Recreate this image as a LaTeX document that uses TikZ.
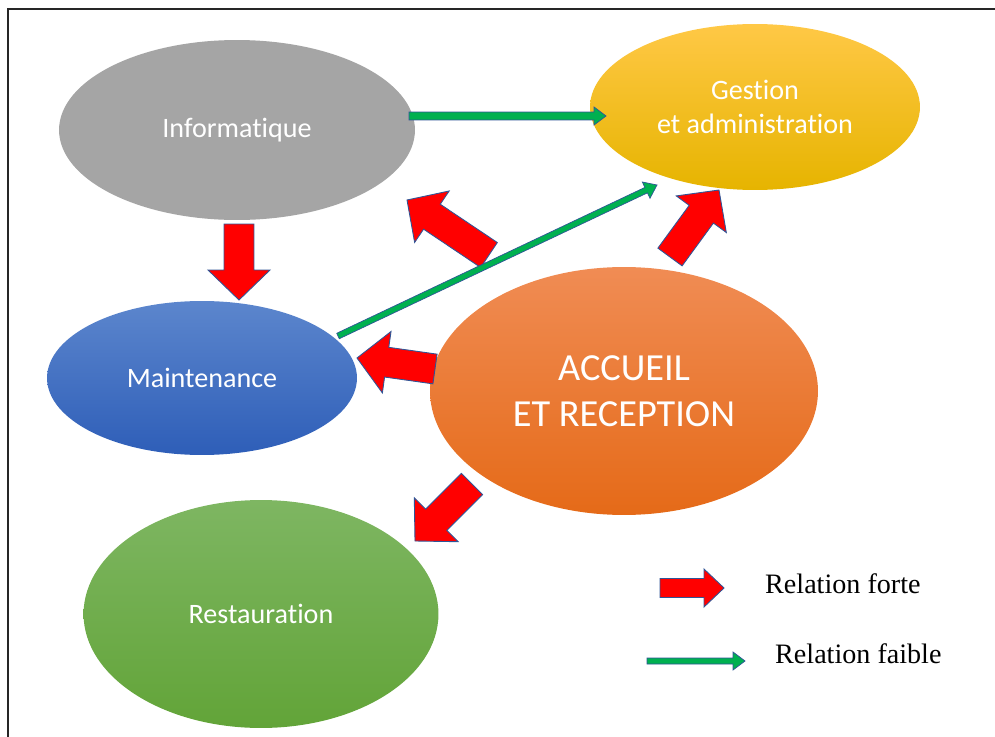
\documentclass[tikz,border=0pt]{standalone}
\usepackage{fontspec}
\setmainfont{Liberation Serif}
\setsansfont[Ligatures=NoCommon]{Carlito}
\usepackage{xcolor}
\usetikzlibrary{shapes,calc}

\definecolor{edgeblue}{HTML}{2F5597}
\definecolor{weakgreen}{HTML}{00B050}
\definecolor{infogray}{HTML}{A5A5A5}
\definecolor{gestTop}{HTML}{FFC846}
\definecolor{gestMid}{HTML}{FFC000}
\definecolor{gestBot}{HTML}{E6B400}
\definecolor{maintTop}{HTML}{5C86CD}
\definecolor{maintBot}{HTML}{2E5EB8}
\definecolor{accTop}{HTML}{F08C54}
\definecolor{accBot}{HTML}{E56A18}
\definecolor{restoTop}{HTML}{7EB662}
\definecolor{restoBot}{HTML}{62A438}

\tikzset{
    blockarrow/.style n args={3}{to path={
        ($(\tikztostart)!#1!90:(\tikztotarget)$)
        -- ($(\tikztotarget)!#3!(\tikztostart)!#1!90:(\tikztotarget)$)
        -- ($(\tikztotarget)!#3!(\tikztostart)!#2!90:(\tikztotarget)$)
        -- (\tikztotarget)
        -- ($(\tikztotarget)!#3!(\tikztostart)!#2!-90:(\tikztotarget)$)
        -- ($(\tikztotarget)!#3!(\tikztostart)!#1!-90:(\tikztotarget)$)
        -- ($(\tikztostart)!#1!-90:(\tikztotarget)$) -- cycle}},
    strong/.style={draw=edgeblue, fill=red, line width=0.5pt, blockarrow={3mm}{6.2mm}{6mm}},
    weak/.style={draw=edgeblue, fill=weakgreen, line width=0.4pt, blockarrow={#1}{1.8mm}{2.4mm}},
    dept/.style={ellipse, inner sep=0pt, text=white, align=center,
        font=\sffamily\fontsize{16}{19.5}\selectfont}
}

\begin{document}
\begin{tikzpicture}[x=0.02cm, y=-0.02cm]
    \useasboundingbox (0,0) rectangle (995,737);
    \draw[line width=1.1pt, black!85] (8,737) -- (8,9) -- (995,9);

    \node[dept, fill=infogray, minimum width=7.12cm, minimum height=3.6cm] (info) at (237,130) {Informatique};
    \node[dept, top color=gestTop, middle color=gestMid, bottom color=gestBot,
        minimum width=6.6cm, minimum height=3.32cm] (gest) at (755,107) {Gestion\\et administration};
    \node[dept, top color=maintTop, bottom color=maintBot,
        minimum width=6.2cm, minimum height=3.08cm] (maint) at (202,378) {Maintenance};
    \node[dept, top color=accTop, bottom color=accBot,
        minimum width=7.76cm, minimum height=4.96cm, font=\sffamily\fontsize{21.8}{26}\selectfont] (accueil) at (624,391) {ACCUEIL\\ET RECEPTION};
    \node[dept, top color=restoTop, bottom color=restoBot,
        minimum width=7.1cm, minimum height=4.56cm] (resto) at (261,614) {Restauration};

    \coordinate (t1) at (239,224);  \coordinate (h1) at (239,300);
    \coordinate (t2) at (489,255);  \coordinate (h2) at (407,200);
    \coordinate (t3) at (670,257);  \coordinate (h3) at (719,190);
    \coordinate (t4) at (435,369);  \coordinate (h4) at (357,358);
    \coordinate (t5) at (472,484);  \coordinate (h5) at (415,541);
    \coordinate (w1) at (409,116);  \coordinate (v1) at (606,116);
    \coordinate (w2) at (338,336);  \coordinate (v2) at (657,185);

    \path[strong] (t1) to (h1);
    \path[strong] (t2) to (h2);
    \path[strong] (t3) to (h3);
    \path[strong] (t4) to (h4);
    \path[strong] (t5) to (h5);
    \path[weak=0.8mm] (w1) to (v1);
    \path[weak=0.6mm] (w2) to (v2);

    % legende
    \coordinate (lt1) at (660,588);  \coordinate (lh1) at (724,588);
    \coordinate (lt2) at (647,661);  \coordinate (lh2) at (745,661);
    \path[draw=edgeblue, fill=red, line width=0.5pt, blockarrow={1.9mm}{3.8mm}{4mm}] (lt1) to (lh1);
    \path[weak=0.6mm] (lt2) to (lh2);
    \node[anchor=base west, font=\fontsize{16}{19}\selectfont] (lforte) at (759,593) {Relation forte};
    \node[anchor=base west, font=\fontsize{16}{19}\selectfont] (lfaible) at (769,663) {Relation faible};
\end{tikzpicture}
\end{document}
